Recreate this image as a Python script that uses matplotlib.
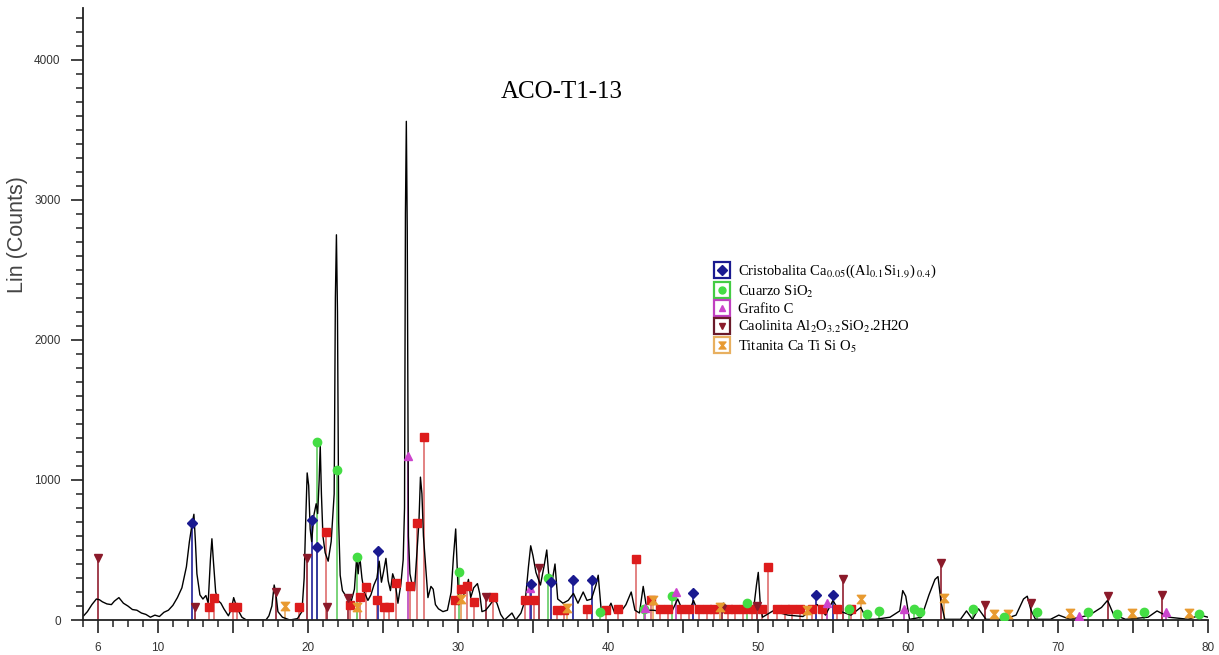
import matplotlib
matplotlib.use("Agg")
import matplotlib.pyplot as plt
from matplotlib.lines import Line2D
from matplotlib.path import Path
from matplotlib.legend_handler import HandlerTuple
from matplotlib.ticker import FixedLocator, FixedFormatter, MultipleLocator

plt.rcParams['mathtext.fontset'] = 'stix'

# measured pattern (2theta, counts)
two_theta = [5.05, 5.3, 5.6, 5.9, 6.1, 6.3, 6.6, 6.9, 7.1, 7.4, 7.7, 8.0, 8.3, 8.6, 8.9,
             9.2, 9.5, 9.8, 10.1, 10.4, 10.7, 11.0, 11.3, 11.6, 11.9, 12.1, 12.3, 12.4,
             12.5, 12.6, 12.8, 13.0, 13.2, 13.35, 13.5, 13.6, 13.7, 13.85, 14.0, 14.2,
             14.4, 14.7, 14.9, 15.05, 15.2, 15.4, 15.6, 15.9, 17.2, 17.4, 17.6, 17.75,
             17.85, 18.0, 18.3, 18.8, 19.3, 19.6, 19.75, 19.85, 19.95, 20.05, 20.15,
             20.25, 20.4, 20.55, 20.65, 20.75, 20.82, 20.9, 21.0, 21.15, 21.35, 21.55,
             21.75, 21.83, 21.9, 21.97, 22.05, 22.15, 22.3, 22.6, 22.9, 23.1, 23.25,
             23.35, 23.45, 23.6, 23.75, 24.0, 24.2, 24.4, 24.6, 24.75, 24.9, 25.05,
             25.2, 25.35, 25.5, 25.65, 25.8, 26.0, 26.2, 26.35, 26.44, 26.5, 26.56,
             26.62, 26.7, 26.8, 26.95, 27.1, 27.25, 27.4, 27.5, 27.6, 27.7, 27.85,
             28.0, 28.2, 28.35, 28.5, 28.7, 29.0, 29.3, 29.55, 29.7, 29.85, 29.95,
             30.05, 30.3, 30.55, 30.7, 30.85, 31.05, 31.3, 31.45, 31.6, 31.85, 32.15,
             32.4, 32.6, 32.85, 33.1, 33.6, 33.85, 34.2, 34.5, 34.7, 34.85, 35.0, 35.2,
             35.5, 35.75, 35.92, 36.1, 36.3, 36.47, 36.65, 37.0, 37.35, 37.7, 38.0,
             38.35, 38.6, 38.9, 39.2, 39.35, 39.55, 39.9, 40.2, 40.45, 40.8, 41.2,
             41.55, 41.8, 42.1, 42.35, 42.6, 43.0, 43.7, 44.3, 44.65, 45.0, 45.45,
             45.7, 46.0, 46.8, 47.7, 48.3, 49.0, 49.7, 49.9, 50.02, 50.15, 50.3, 51.0,
             52.0, 53.0, 53.95, 54.5, 55.0, 55.4, 56.2, 56.85, 57.25, 57.8, 58.8,
             59.45, 59.65, 59.85, 60.1, 60.9, 61.4, 61.8, 62.0, 62.2, 62.45, 63.5,
             63.9, 64.3, 64.7, 65.2, 66.4, 67.2, 67.7, 67.95, 68.2, 68.5, 69.5, 70.05,
             70.8, 72.1, 72.9, 73.3, 73.7, 74.5, 76.0, 76.6, 77.4, 78.7, 79.45, 80.0]
counts = [30, 60, 110, 150, 145, 130, 115, 110, 135, 160, 120, 100, 75, 70, 50,
          40, 20, 35, 25, 55, 70, 105, 160, 230, 380, 560, 700, 755,
          560, 330, 180, 150, 175, 120, 430, 580, 420, 200, 140, 120,
          80, 30, 80, 160, 110, 60, 20, 0, 0, 30, 100, 250,
          200, 60, 20, 0, 10, 60, 300, 700, 1050, 960, 650,
          560, 750, 830, 760, 1000, 1250, 900, 600, 480, 420, 560,
          900, 2300, 2750, 2200, 700, 320, 210, 160, 140, 220, 450,
          330, 460, 300, 200, 140, 180, 250, 300, 420, 270, 350,
          440, 280, 210, 330, 280, 120, 260, 430, 800, 2900, 3560,
          2800, 600, 330, 250, 210, 450, 700, 1020, 900, 600, 380,
          160, 240, 220, 110, 80, 60, 70, 200, 450, 650, 380,
          110, 160, 220, 290, 160, 230, 260, 190, 60, 70, 110,
          150, 120, 40, 0, 50, 0, 50, 150, 380, 530, 460, 340,
          250, 390, 500, 260, 290, 400, 150, 120, 140, 190, 120,
          200, 140, 150, 250, 320, 70, 50, 120, 50, 50, 110,
          200, 70, 50, 240, 70, 70, 60, 70, 150, 60, 70,
          140, 60, 50, 120, 50, 90, 70, 250, 340, 120, 20, 65,
          35, 25, 110, 35, 140, 65, 35, 90, 5, 5, 20,
          65, 210, 170, 5, 20, 180, 290, 310, 130, 5, 5,
          65, 5, 80, 5, 5, 35, 150, 170, 70, 5, 5, 35,
          5, 35, 90, 140, 40, 5, 20, 65, 20, 5, 35, 20]

# reference phase lines
cristobalita_x = [12.3, 20.3, 20.6, 24.7, 34.9, 36.2, 37.7, 38.95, 45.7, 53.9, 55.0]
cristobalita_h = [690, 715, 520, 490, 260, 270, 285, 285, 195, 180, 180]
cuarzo_x = [20.6, 21.95, 23.3, 30.1, 36.0, 39.5, 42.4, 44.3, 49.3, 56.1, 57.3, 58.1,
            60.4, 60.8, 64.3, 66.4, 68.6, 72.0, 73.9, 75.7, 79.4]
cuarzo_h = [1270, 1070, 450, 340, 300, 60, 80, 170, 120, 80, 40, 65,
            80, 60, 80, 20, 60, 55, 40, 55, 40]
grafito_x = [26.65, 34.8, 42.45, 44.55, 54.6, 59.75, 71.4, 77.2]
grafito_h = [1170, 230, 85, 200, 120, 80, 30, 55]
caolinita_x = [6.0, 12.45, 17.9, 19.95, 21.25, 22.7, 31.9, 35.4, 47.6, 49.95, 55.7,
               62.2, 65.1, 68.2, 73.3, 76.9]
caolinita_h = [440, 95, 200, 440, 95, 155, 165, 370, 80, 100, 290,
               410, 110, 120, 170, 180]
titanita_x = [18.45, 23.25, 30.2, 37.25, 43.0, 47.5, 53.3, 56.9, 62.4, 65.7, 66.65,
              70.8, 74.9, 78.7]
titanita_h = [100, 95, 150, 85, 140, 90, 70, 150, 160, 40, 40, 50, 50, 50]
otra_x = [13.4, 13.75, 15.0, 15.3, 19.4, 21.2, 22.8, 23.45, 23.9, 24.6, 25.1, 25.4,
          25.9, 26.8, 27.25, 27.75, 29.8, 30.2, 30.6, 31.1, 32.35, 34.5, 35.1, 36.6,
          37.1, 38.6, 39.9, 40.7, 41.85, 42.9, 43.5, 44.0, 44.9, 45.4, 46.1, 46.6,
          47.1, 48.0, 48.5, 49.0, 49.6, 50.3, 50.7, 51.3, 51.8, 52.3, 52.8, 53.6,
          54.3, 55.3, 56.2]
otra_h = [90, 160, 90, 90, 95, 630, 110, 165, 235, 140, 95, 95,
          265, 240, 690, 1310, 140, 220, 240, 130, 165, 140, 140, 70,
          70, 80, 70, 80, 435, 140, 80, 80, 80, 80, 80, 80,
          80, 80, 80, 80, 80, 80, 375, 80, 80, 80, 80, 80,
          80, 80, 80]

x_labels = ['6', '10', '', '20', '', '30', '', '40', '', '50', '', '60', '', '70', '', '80']
x_major = [6, 10, 15, 20, 25, 30, 35, 40, 45, 50, 55, 60, 65, 70, 75, 80]

hourglass = Path([(-1, 1), (1, 1), (0.15, 0), (1, -1), (-1, -1), (-0.15, 0), (-1, 1)],
                 [Path.MOVETO] + [Path.LINETO] * 5 + [Path.CLOSEPOLY])

phases = [
    (otra_x, otra_h, '#e07878', 's', '#dd1c1c', 6),
    (caolinita_x, caolinita_h, '#9a3040', 'v', '#8b1a2a', 6),
    (titanita_x, titanita_h, '#e8b070', hourglass, '#e89a30', 6),
    (cuarzo_x, cuarzo_h, '#70d070', 'o', '#44dd44', 6),
    (grafito_x, grafito_h, '#c050c0', '^', '#cc44cc', 6),
    (cristobalita_x, cristobalita_h, '#3030a0', 'D', '#1a1a90', 5),
]

fig = plt.figure(figsize=(12.19, 6.55), dpi=100)
ax = fig.add_axes([0.068, 0.0534, 0.923, 0.9346])

for xs, hs, lc, mk, mc, ms in phases:
    ax.vlines(xs, 0, hs, colors=lc, lw=1.3, zorder=1)

ax.plot(two_theta, counts, color='black', lw=1.0, zorder=2)

for xs, hs, lc, mk, mc, ms in phases:
    ax.plot(xs, hs, ls='none', marker=mk, ms=ms, color=mc, mec=mc, zorder=3)

ax.set_xlim(5, 80)
ax.set_ylim(0, 4370)
for s in ['top', 'right']:
    ax.spines[s].set_visible(False)
for s in ['left', 'bottom']:
    ax.spines[s].set_linewidth(1.3)
    ax.spines[s].set_color('#222222')

ax.xaxis.set_major_locator(FixedLocator(x_major))
ax.xaxis.set_major_formatter(FixedFormatter(x_labels))
ax.xaxis.set_minor_locator(MultipleLocator(1))
ax.yaxis.set_major_locator(MultipleLocator(1000))
ax.yaxis.set_minor_locator(MultipleLocator(100))
ax.tick_params(which='major', length=9, width=1.2, color='#222222', pad=7,
               labelsize=8.5, labelcolor='#333333')
ax.tick_params(which='minor', length=5, width=1.1, color='#222222')
for lab in ax.get_xticklabels() + ax.get_yticklabels():
    lab.set_family('Liberation Sans')

ax.text(-0.058, 0.63, 'Lin (Counts)', transform=ax.transAxes, rotation=90,
        ha='center', va='center', fontsize=15.5, color='#444444', family='Liberation Sans')
ax.text(36.9, 3770, 'ACO-T1-13', ha='center', va='center', fontsize=18,
        family='Liberation Serif')

legend_items = [
    ('#1a1a90', 'D', '#1a1a90', r'Cristobalita Ca$_{0.05}$((Al$_{0.1}$Si$_{1.9}$)$_{\ 0.4}$)'),
    ('#44cc44', 'o', '#44dd44', r'Cuarzo SiO$_2$'),
    ('#c040c0', '^', '#cc44cc', 'Grafito C'),
    ('#6a1a2a', 'v', '#8b1a2a', r'Caolinita Al$_2$O$_{3.2}$SiO$_2$.2H2O'),
    ('#e8b060', hourglass, '#e89a30', r'Titanita Ca Ti Si O$_5$'),
]
handles = []
labels = []
for fc, mk, mc, lab in legend_items:
    box = Line2D([], [], ls='none', marker='s', ms=11, mfc='white', mec=fc, mew=1.6)
    sym = Line2D([], [], ls='none', marker=mk, ms=5, color=mc)
    handles.append((box, sym))
    labels.append(lab)
ax.legend(handles, labels, handler_map={tuple: HandlerTuple(ndivide=1)},
          loc='upper left', bbox_to_anchor=(0.552, 0.6), frameon=False,
          prop={'family': 'Liberation Serif', 'size': 10.5}, handlelength=1.1,
          handletextpad=0.55, labelspacing=0.22, borderpad=0.2)

fig.savefig('out.png', dpi=100)
